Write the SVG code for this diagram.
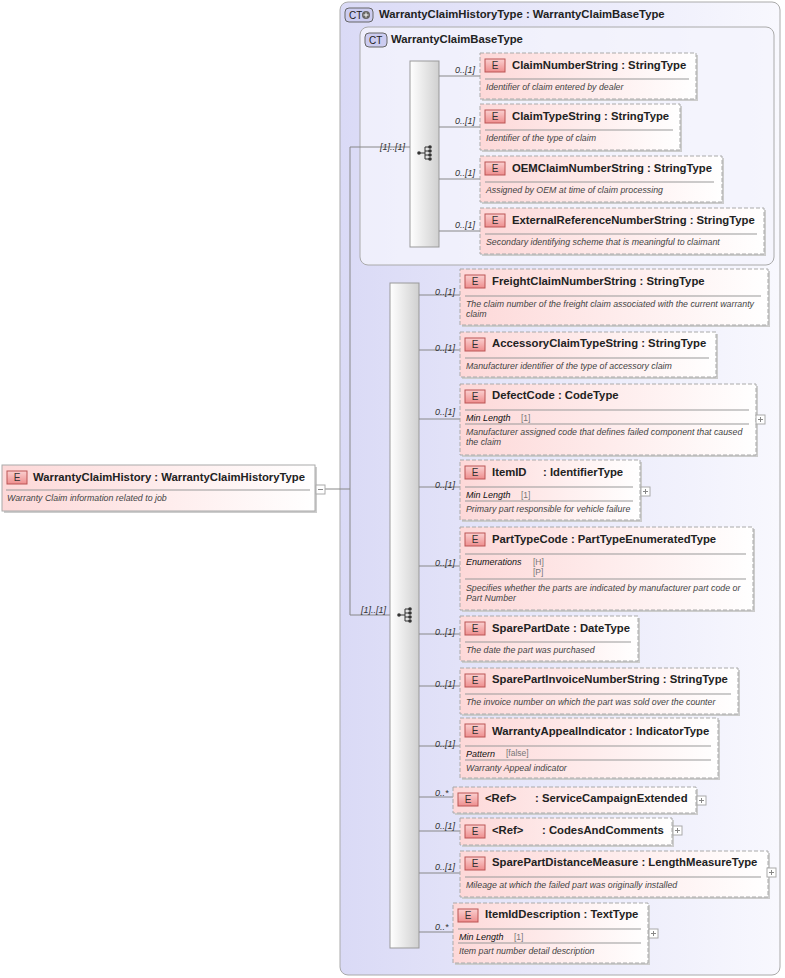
<svg xmlns="http://www.w3.org/2000/svg" width="785" height="978" viewBox="0 0 785 978">
<defs>
<linearGradient id="ct" x1="0" y1="0" x2="1" y2="0"><stop offset="0" stop-color="#dadaf6"/><stop offset="1" stop-color="#f8f8fe"/></linearGradient>
<linearGradient id="el" x1="0" y1="0" x2="1" y2="0"><stop offset="0" stop-color="#fdd8d8"/><stop offset="1" stop-color="#ffffff"/></linearGradient>
<linearGradient id="eb" x1="0" y1="0" x2="0" y2="1"><stop offset="0" stop-color="#fbd0d0"/><stop offset="1" stop-color="#ee8e8e"/></linearGradient>
<linearGradient id="sq" x1="0" y1="0" x2="1" y2="0"><stop offset="0" stop-color="#ffffff"/><stop offset="1" stop-color="#d0d0d0"/></linearGradient>
<g id="seqicon"><circle cx="-6" cy="0" r="1.8" fill="#333"/><path d="M-6 0H0M0 -6V6M0 -6H4M0 -2H4M0 2H4M0 6H4" stroke="#333" fill="none"/><circle cx="5" cy="-6" r="1.8" fill="#333"/><circle cx="5" cy="-2" r="1.8" fill="#333"/><circle cx="5" cy="2" r="1.8" fill="#333"/><circle cx="5" cy="6" r="1.8" fill="#333"/></g>
</defs>
<style>
text{font-family:"Liberation Sans",Arial,sans-serif;fill:#222}
.t{font-size:11.3px;font-weight:bold}
.d{font-size:8.8px;font-style:italic;fill:#444}
.m{font-size:9px;font-style:italic;fill:#333}
.f{font-size:9px;font-style:italic;fill:#111}
.v{font-size:8.5px;fill:#777}
.e{fill:url(#el);stroke:#aaa;stroke-dasharray:4,2}
.s{fill:#ccc}
.b{fill:url(#eb);stroke:#b55}
.bt{font-size:10px;text-anchor:middle;fill:#333}
.l{stroke:#999;stroke-width:1}
.c{stroke:#888;fill:none}
.p{fill:#fff;stroke:#aaa}
</style>
<g id="ct-outer"><rect x="340" y="2" width="440" height="973" rx="8" fill="url(#ct)" stroke="#aaa"/>
<rect x="345" y="8" width="28" height="14" rx="4" fill="#ccccf0" stroke="#666"/><text x="349" y="19" style="font-size:10px">CT</text><circle cx="366" cy="15" r="4" fill="#666"/><path d="M363.5 15h5M366 12.5v5" stroke="#fff"/>
<text x="379" y="18" class="t">WarrantyClaimHistoryType : WarrantyClaimBaseType</text></g>
<g id="ct-inner"><rect x="360" y="27" width="414" height="238" rx="8" fill="#f4f4fc" fill-opacity="0.8" stroke="#aaa"/>
<rect x="365" y="33" width="22" height="14" rx="4" fill="#ccccf0" stroke="#666"/><text x="369" y="44" style="font-size:10px">CT</text>
<text x="391" y="43" class="t">WarrantyClaimBaseType</text></g>
<g id="seq1"><rect x="410" y="61" width="29" height="186" fill="url(#sq)" stroke="#999"/><use href="#seqicon" x="425" y="153"/></g>
<g id="seq2"><rect x="390" y="283" width="29" height="665" fill="url(#sq)" stroke="#999"/><use href="#seqicon" x="405" y="615"/></g>
<g id="connectors">
<path class="c" d="M325 489H350M350 147V615M350 147H410M350 615H390"/>
<text x="380" y="150" class="m">[1]..[1]</text><text x="361" y="613" class="m">[1]..[1]</text>
<path class="c" d="M439 76H480M439 127H480M439 179H480M439 231H480"/>
<text x="455" y="73" class="m">0..[1]</text><text x="455" y="124" class="m">0..[1]</text><text x="455" y="176" class="m">0..[1]</text><text x="455" y="228" class="m">0..[1]</text>
<path class="c" d="M419 295H460M419 350H460M419 419H460M419 487H460M419 566H460M419 634H460M419 686H460M419 746H460M419 797H453M419 831H460M419 873H460M419 932H453"/>
<text x="435" y="295" class="m">0..[1]</text><text x="435" y="351" class="m">0..[1]</text><text x="435" y="415" class="m">0..[1]</text><text x="435" y="488" class="m">0..[1]</text><text x="435" y="566" class="m">0..[1]</text><text x="435" y="635" class="m">0..[1]</text><text x="435" y="687" class="m">0..[1]</text><text x="435" y="747" class="m">0..[1]</text><text x="435" y="796" class="m">0..*</text><text x="435" y="829" class="m">0..[1]</text><text x="435" y="870" class="m">0..[1]</text><text x="435" y="930" class="m">0..*</text>
</g>
<g id="root"><rect x="4" y="467" width="313" height="46" class="s"/><rect x="2" y="465" width="313" height="46" fill="url(#el)" stroke="#aaa"/><rect x="7" y="471" width="20" height="13" class="b"/><text x="17" y="481" class="bt">E</text><text x="33" y="481" class="t">WarrantyClaimHistory : WarrantyClaimHistoryType</text><path class="l" d="M6 490H310"/><text x="7" y="501" class="d">Warranty Claim information related to job</text><rect x="316" y="485" width="9" height="9" class="p"/><path d="M318 489.5h5" stroke="#888"/></g>
<g id="n1"><rect x="482" y="55" width="216" height="46" class="s"/><rect x="480" y="53" width="216" height="46" class="e"/><rect x="485" y="59" width="20" height="13" class="b"/><text x="495" y="69" class="bt">E</text><text x="512" y="69" class="t">ClaimNumberString : StringType</text><path class="l" d="M485 79H689"/><text x="486" y="90" class="d">Identifier of claim entered by dealer</text></g>
<g id="n2"><rect x="482" y="106" width="200" height="46" class="s"/><rect x="480" y="104" width="200" height="46" class="e"/><rect x="485" y="110" width="20" height="13" class="b"/><text x="495" y="120" class="bt">E</text><text x="512" y="120" class="t">ClaimTypeString : StringType</text><path class="l" d="M485 130H673"/><text x="486" y="141" class="d">Identifier of the type of claim</text></g>
<g id="n3"><rect x="482" y="158" width="242" height="46" class="s"/><rect x="480" y="156" width="242" height="46" class="e"/><rect x="485" y="162" width="20" height="13" class="b"/><text x="495" y="172" class="bt">E</text><text x="512" y="172" class="t">OEMClaimNumberString : StringType</text><path class="l" d="M485 182H714"/><text x="486" y="193" class="d">Assigned by OEM at time of claim processing</text></g>
<g id="n4"><rect x="482" y="210" width="284" height="46" class="s"/><rect x="480" y="208" width="284" height="46" class="e"/><rect x="485" y="214" width="20" height="13" class="b"/><text x="495" y="224" class="bt">E</text><text x="512" y="224" class="t">ExternalReferenceNumberString : StringType</text><path class="l" d="M485 234H757"/><text x="486" y="245" class="d">Secondary identifying scheme that is meaningful to claimant</text></g>
<g id="n5"><rect x="462" y="271" width="308" height="56" class="s"/><rect x="460" y="269" width="308" height="56" class="e"/><rect x="465" y="275" width="20" height="13" class="b"/><text x="475" y="285" class="bt">E</text><text x="492" y="285" class="t">FreightClaimNumberString : StringType</text><path class="l" d="M465 296H761"/><text x="466" y="307" class="d">The claim number of the freight claim associated with the current warranty</text><text x="466" y="317" class="d">claim</text></g>
<g id="n6"><rect x="462" y="334" width="256" height="45" class="s"/><rect x="460" y="332" width="256" height="45" class="e"/><rect x="465" y="338" width="20" height="13" class="b"/><text x="475" y="348" class="bt">E</text><text x="492" y="347" class="t">AccessoryClaimTypeString : StringType</text><path class="l" d="M465 358H709"/><text x="466" y="369" class="d">Manufacturer identifier of the type of accessory claim</text></g>
<g id="n7"><rect x="462" y="386" width="296" height="71" class="s"/><rect x="460" y="384" width="296" height="71" class="e"/><rect x="465" y="390" width="20" height="13" class="b"/><text x="475" y="400" class="bt">E</text><text x="492" y="399" class="t">DefectCode : CodeType</text><path class="l" d="M465 410H749M465 424H749"/><text x="466" y="421" class="f">Min Length</text><text x="521" y="421" class="v">[1]</text><text x="466" y="435" class="d">Manufacturer assigned code that defines failed component that caused</text><text x="466" y="445" class="d">the claim</text><rect x="756" y="415" width="9" height="9" class="p"/><path d="M758 419.5h5M760.5 417v5" stroke="#888"/></g>
<g id="n8"><rect x="462" y="462" width="180" height="60" class="s"/><rect x="460" y="460" width="180" height="60" class="e"/><rect x="465" y="466" width="20" height="13" class="b"/><text x="475" y="476" class="bt">E</text><text x="492" y="476" class="t">ItemID</text><text x="543" y="476" class="t">: IdentifierType</text><path class="l" d="M465 487H633M465 501H633"/><text x="466" y="498" class="f">Min Length</text><text x="521" y="498" class="v">[1]</text><text x="466" y="512" class="d">Primary part responsible for vehicle failure</text><rect x="641" y="487" width="9" height="9" class="p"/><path d="M643 491.5h5M645.5 489v5" stroke="#888"/></g>
<g id="n9"><rect x="462" y="529" width="293" height="83" class="s"/><rect x="460" y="527" width="293" height="83" class="e"/><rect x="465" y="533" width="20" height="13" class="b"/><text x="475" y="543" class="bt">E</text><text x="492" y="543" class="t">PartTypeCode : PartTypeEnumeratedType</text><path class="l" d="M465 554H746M465 579H746"/><text x="466" y="565" class="f">Enumerations</text><text x="533" y="565" class="v">[H]</text><text x="533" y="575" class="v">[P]</text><text x="466" y="591" class="d">Specifies whether the parts are indicated by manufacturer part code or</text><text x="466" y="601" class="d">Part Number</text></g>
<g id="n10"><rect x="462" y="618" width="178" height="45" class="s"/><rect x="460" y="616" width="178" height="45" class="e"/><rect x="465" y="622" width="20" height="13" class="b"/><text x="475" y="632" class="bt">E</text><text x="492" y="632" class="t">SparePartDate : DateType</text><path class="l" d="M465 642H631"/><text x="466" y="653" class="d">The date the part was purchased</text></g>
<g id="n11"><rect x="462" y="670" width="278" height="46" class="s"/><rect x="460" y="668" width="278" height="46" class="e"/><rect x="465" y="674" width="20" height="13" class="b"/><text x="475" y="684" class="bt">E</text><text x="492" y="683" class="t">SparePartInvoiceNumberString : StringType</text><path class="l" d="M465 694H731"/><text x="466" y="705" class="d">The invoice number on which the part was sold over the counter</text></g>
<g id="n12"><rect x="462" y="720" width="258" height="60" class="s"/><rect x="460" y="718" width="258" height="60" class="e"/><rect x="465" y="724" width="20" height="13" class="b"/><text x="475" y="734" class="bt">E</text><text x="492" y="735" class="t">WarrantyAppealIndicator : IndicatorType</text><path class="l" d="M465 746H711M465 760H711"/><text x="466" y="757" class="f">Pattern</text><text x="506" y="756" class="v">[false]</text><text x="466" y="771" class="d">Warranty Appeal indicator</text></g>
<g id="n13"><rect x="455" y="789" width="243" height="26" class="s"/><rect x="453" y="787" width="243" height="26" class="e"/><rect x="458" y="793" width="20" height="13" class="b"/><text x="468" y="803" class="bt">E</text><text x="485" y="802" class="t">&lt;Ref&gt;</text><text x="535" y="802" class="t">: ServiceCampaignExtended</text><rect x="697" y="796" width="9" height="9" class="p"/><path d="M699 800.5h5M701.5 798v5" stroke="#888"/></g>
<g id="n14"><rect x="462" y="820" width="212" height="27" class="s"/><rect x="460" y="818" width="212" height="27" class="e"/><rect x="465" y="825" width="20" height="13" class="b"/><text x="475" y="835" class="bt">E</text><text x="492" y="834" class="t">&lt;Ref&gt;</text><text x="542" y="834" class="t">: CodesAndComments</text><rect x="673" y="826" width="9" height="9" class="p"/><path d="M675 830.5h5M677.5 828v5" stroke="#888"/></g>
<g id="n15"><rect x="462" y="853" width="308" height="46" class="s"/><rect x="460" y="851" width="308" height="46" class="e"/><rect x="465" y="857" width="20" height="13" class="b"/><text x="475" y="867" class="bt">E</text><text x="492" y="866" class="t">SparePartDistanceMeasure : LengthMeasureType</text><path class="l" d="M465 877H761"/><text x="466" y="888" class="d">Mileage at which the failed part was originally installed</text><rect x="767" y="868" width="9" height="9" class="p"/><path d="M769 872.5h5M771.5 870v5" stroke="#888"/></g>
<g id="n16"><rect x="455" y="905" width="195" height="60" class="s"/><rect x="453" y="903" width="195" height="60" class="e"/><rect x="458" y="909" width="20" height="13" class="b"/><text x="468" y="919" class="bt">E</text><text x="485" y="918" class="t">ItemIdDescription : TextType</text><path class="l" d="M458 929H641M458 943H641"/><text x="459" y="940" class="f">Min Length</text><text x="514" y="940" class="v">[1]</text><text x="459" y="954" class="d">Item part number detail description</text><rect x="649" y="929" width="9" height="9" class="p"/><path d="M651 933.5h5M653.5 931v5" stroke="#888"/></g>
</svg>
